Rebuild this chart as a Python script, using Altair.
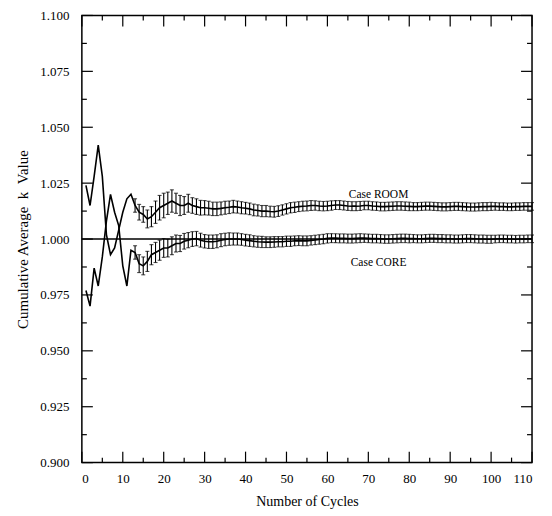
import altair as alt
import pandas as pd

# ---------------- data ----------------
cycles = list(range(1, 111))

room_mean = [
    1.024, 1.015, 1.028, 1.042, 1.028, 1.002, 0.993, 0.996, 1.004, 1.012,
    1.018, 1.020, 1.015, 1.012, 1.011, 1.009, 1.010, 1.012, 1.014, 1.015,
    1.016, 1.017, 1.016, 1.015, 1.015, 1.016, 1.015, 1.0145, 1.014, 1.014,
    1.0138, 1.0135, 1.0135, 1.0137, 1.014, 1.0142, 1.0145, 1.0143, 1.014, 1.0138,
    1.0135, 1.013, 1.0128, 1.0125, 1.0125, 1.0123, 1.0122, 1.0125, 1.013, 1.0135,
    1.014, 1.0142, 1.0145, 1.0147, 1.0148, 1.015, 1.015, 1.0148, 1.0147, 1.0148,
    1.015, 1.0152, 1.0152, 1.015, 1.0148, 1.0147, 1.0147, 1.0148, 1.015, 1.015,
    1.0148, 1.0147, 1.0145, 1.0145, 1.0146, 1.0147, 1.0148, 1.0148, 1.0147, 1.0146,
    1.0145, 1.0145, 1.0146, 1.0147, 1.0147, 1.0146, 1.0145, 1.0144, 1.0144, 1.0145,
    1.0146, 1.0146, 1.0145, 1.0144, 1.0143, 1.0143, 1.0144, 1.0145, 1.0145, 1.0146,
    1.0146, 1.0145, 1.0145, 1.0144, 1.0144, 1.0145, 1.0145, 1.0146, 1.0146, 1.0146,
]

core_mean = [
    0.977, 0.970, 0.987, 0.979, 0.992, 1.008, 1.020, 1.012, 1.006, 0.988,
    0.979, 0.995, 0.994, 0.989, 0.988, 0.990, 0.993, 0.994, 0.995, 0.996,
    0.996, 0.997, 0.998, 0.998, 0.999, 0.9995, 1.000, 1.0002, 0.9995, 0.999,
    0.9988, 0.9988, 0.999, 0.9995, 0.9998, 1.000, 1.000, 1.000, 0.9998, 0.9995,
    0.9993, 0.999, 0.9988, 0.9987, 0.9986, 0.9986, 0.9987, 0.9988, 0.9988, 0.999,
    0.999, 0.9992, 0.9993, 0.9992, 0.9992, 0.9994, 0.9996, 0.9998, 1.000, 1.0003,
    1.0004, 1.0004, 1.0003, 1.0003, 1.0002, 1.0002, 1.0003, 1.0004, 1.0004, 1.0003,
    1.0002, 1.0002, 1.0001, 1.000, 1.000, 1.0001, 1.0002, 1.0003, 1.0003, 1.0002,
    1.0002, 1.0001, 1.0001, 1.0002, 1.0003, 1.0003, 1.0002, 1.0002, 1.0001, 1.0001,
    1.000, 1.000, 1.0001, 1.0002, 1.0002, 1.0001, 1.000, 1.000, 0.9999, 0.9999,
    1.000, 1.0001, 1.0001, 1.000, 1.000, 0.9999, 1.000, 1.000, 1.0001, 1.0001,
]

room_err = [
    0, 0, 0, 0, 0, 0, 0, 0, 0, 0,
    0, 0, 0.003, 0.0035, 0.0035, 0.004, 0.0045, 0.005, 0.0055, 0.0055,
    0.005, 0.005, 0.0045, 0.0045, 0.004, 0.004, 0.0035, 0.0035, 0.0033, 0.0032,
    0.0031, 0.003, 0.003, 0.0029, 0.0029, 0.0028, 0.0028, 0.0027, 0.0027, 0.0026,
    0.0026, 0.0026, 0.0025, 0.0025, 0.0025, 0.0024, 0.0024, 0.0024, 0.0023, 0.0023,
    0.0023, 0.0023, 0.0022, 0.0022, 0.0022, 0.0022, 0.0021, 0.0021, 0.0021, 0.0021,
    0.0021, 0.002, 0.002, 0.002, 0.002, 0.002, 0.002, 0.002, 0.0019, 0.0019,
    0.0019, 0.0019, 0.0019, 0.0019, 0.0019, 0.0019, 0.0019, 0.0019, 0.0019, 0.0019,
    0.0018, 0.0018, 0.0018, 0.0018, 0.0018, 0.0018, 0.0018, 0.0018, 0.0018, 0.0018,
    0.0018, 0.0018, 0.0018, 0.0018, 0.0018, 0.0018, 0.0018, 0.0018, 0.0018, 0.0018,
    0.0017, 0.0017, 0.0017, 0.0017, 0.0017, 0.0017, 0.0017, 0.0017, 0.0017, 0.0017,
]

core_err = [
    0, 0, 0, 0, 0, 0, 0, 0, 0, 0,
    0, 0, 0.003, 0.004, 0.004, 0.0045, 0.0045, 0.0045, 0.0045, 0.0042,
    0.004, 0.004, 0.0038, 0.0036, 0.0035, 0.0034, 0.0033, 0.0032, 0.0031, 0.003,
    0.003, 0.003, 0.0029, 0.0029, 0.0028, 0.0028, 0.0027, 0.0027, 0.0026, 0.0026,
    0.0026, 0.0025, 0.0025, 0.0025, 0.0024, 0.0024, 0.0024, 0.0023, 0.0023, 0.0023,
    0.0023, 0.0022, 0.0022, 0.0022, 0.0022, 0.0021, 0.0021, 0.0021, 0.0021, 0.0021,
    0.002, 0.002, 0.002, 0.002, 0.002, 0.002, 0.002, 0.002, 0.0019, 0.0019,
    0.0019, 0.0019, 0.0019, 0.0019, 0.0019, 0.0019, 0.0019, 0.0019, 0.0019, 0.0019,
    0.0018, 0.0018, 0.0018, 0.0018, 0.0018, 0.0018, 0.0018, 0.0018, 0.0018, 0.0018,
    0.0018, 0.0018, 0.0018, 0.0018, 0.0018, 0.0018, 0.0018, 0.0018, 0.0018, 0.0018,
    0.0017, 0.0017, 0.0017, 0.0017, 0.0017, 0.0017, 0.0017, 0.0017, 0.0017, 0.0017,
]

case_names = ["Case ROOM", "Case CORE"]
label_cycle = [72.5, 72.5]
label_k = [1.0197, 0.9895]

x_major = [0, 10, 20, 30, 40, 50, 60, 70, 80, 90, 100, 110]
x_minor = [5, 15, 25, 35, 45, 55, 65, 75, 85, 95, 105]
y_major = [0.900, 0.925, 0.950, 0.975, 1.000, 1.025, 1.050, 1.075, 1.100]
y_minor = [0.9125, 0.9375, 0.9625, 0.9875, 1.0125, 1.0375, 1.0625, 1.0875]
reference_k = [1.000]

# ---------------- layout / style ----------------
W, H = 451, 448
MAJ, MIN = 11, 5
FONT = "Liberation Serif"
NB = "\u00a0"

df_line = pd.concat([
    pd.DataFrame({"cycle": cycles, "k": room_mean, "err": room_err, "case": "ROOM"}),
    pd.DataFrame({"cycle": cycles, "k": core_mean, "err": core_err, "case": "CORE"}),
])
df_bar = df_line[df_line["err"] > 0].copy()
df_bar["lo"] = df_bar["k"] - df_bar["err"]
df_bar["hi"] = df_bar["k"] + df_bar["err"]

xs = alt.Scale(domain=[0, 110], nice=False, zero=False)
ys = alt.Scale(domain=[0.9, 1.1], nice=False, zero=False)
x_axis = alt.Axis(values=x_major, title="Number of Cycles", ticks=False, tickSize=0,
                  domain=False, grid=False, labelPadding=10, titlePadding=9,
                  labelFontSize=13, titleFontSize=14)
y_axis = alt.Axis(values=y_major, format=".3f",
                  title=f"Cumulative Average{NB}{NB}k{NB}{NB}Value",
                  ticks=False, tickSize=0, domain=False, grid=False, labelPadding=13,
                  titlePadding=9, labelFontSize=13, titleFontSize=15)


def X(field="cycle"):
    return alt.X(f"{field}:Q", scale=xs, axis=x_axis)


def Y(field="k"):
    return alt.Y(f"{field}:Q", scale=ys, axis=y_axis)


lines = alt.Chart(df_line).mark_line(color="black", strokeWidth=1.6).encode(
    x=X(), y=Y(), detail="case:N", order="cycle:Q")

bars = alt.Chart(df_bar).mark_rule(color="black", strokeWidth=1.1).encode(
    x=X(), y=Y("lo"), y2="hi:Q")
caps_lo = alt.Chart(df_bar).mark_tick(color="black", orient="horizontal", size=4,
                                      thickness=1.1).encode(x=X(), y=Y("lo"))
caps_hi = alt.Chart(df_bar).mark_tick(color="black", orient="horizontal", size=4,
                                      thickness=1.1).encode(x=X(), y=Y("hi"))

ref = alt.Chart(pd.DataFrame({"k": reference_k})).mark_rule(
    color="black", strokeWidth=1.5).encode(y=Y())

labels = alt.Chart(pd.DataFrame({"cycle": label_cycle, "k": label_k, "label": case_names})).mark_text(
    font=FONT, fontSize=11.5, color="black").encode(x=X(), y=Y(), text="label:N")

ymaj = pd.DataFrame({"k": y_major})
ymin = pd.DataFrame({"k": y_minor})
xmaj = pd.DataFrame({"cycle": x_major})
xmin = pd.DataFrame({"cycle": x_minor})

tick_layers = []
for d, n in ((ymaj, MAJ), (ymin, MIN)):
    tick_layers.append(alt.Chart(d).mark_rule(color="black", strokeWidth=1.2).encode(
        y=Y(), x=alt.value(0), x2=alt.value(n)))
    tick_layers.append(alt.Chart(d).mark_rule(color="black", strokeWidth=1.2).encode(
        y=Y(), x=alt.value(W), x2=alt.value(W - n)))
for d, n in ((xmaj, MAJ), (xmin, MIN)):
    tick_layers.append(alt.Chart(d).mark_rule(color="black", strokeWidth=1.2).encode(
        x=X(), y=alt.value(H), y2=alt.value(H - n)))
    tick_layers.append(alt.Chart(d).mark_rule(color="black", strokeWidth=1.2).encode(
        x=X(), y=alt.value(0), y2=alt.value(n)))

chart = alt.layer(ref, bars, caps_lo, caps_hi, lines, labels, *tick_layers).properties(
    width=W, height=H,
    autosize=alt.AutoSizeParams(type="none"),
    padding={"left": 74, "top": 7, "right": 12, "bottom": 50},
    background="white",
).configure_view(stroke="black", strokeWidth=1.5).configure_axis(
    labelFont=FONT, titleFont=FONT, labelColor="black", titleColor="black",
    titleFontWeight="normal")

chart.save("out.html", embed_options={"renderer": "svg", "actions": False})
